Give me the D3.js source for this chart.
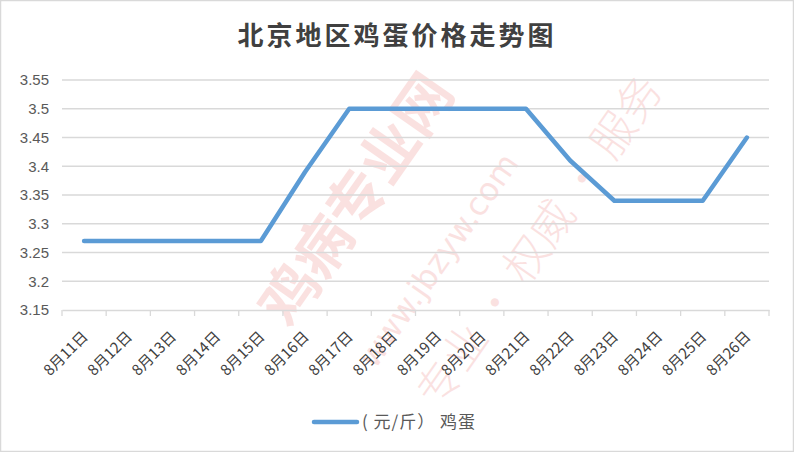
<!DOCTYPE html>
<html><head><meta charset="utf-8">
<script src="https://cdn.jsdelivr.net/npm/d3@7"></script>
<style>html,body{margin:0;padding:0;background:#fff;}svg{display:block;}</style>
</head><body>
<script>
const categories = ["8月11日","8月12日","8月13日","8月14日","8月15日","8月16日","8月17日","8月18日","8月19日","8月20日","8月21日","8月22日","8月23日","8月24日","8月25日","8月26日"];
const eggPrices = [3.27,3.27,3.27,3.27,3.27,3.39,3.5,3.5,3.5,3.5,3.5,3.41,3.34,3.34,3.34,3.45];
const yTicks = [3.15,3.2,3.25,3.3,3.35,3.4,3.45,3.5,3.55];
const title = "北京地区鸡蛋价格走势图";
const seriesName = "( 元/斤） 鸡蛋";

const W = 794, H = 452;
const svg = d3.select("body").append("svg").attr("width", W).attr("height", H);
const font = "'Noto Sans CJK SC', 'Noto Sans', sans-serif";

svg.append("rect").attr("x",0.5).attr("y",0.5).attr("width",W-1).attr("height",H-1)
  .attr("fill","#fff").attr("stroke","#d9d9d9").attr("stroke-width",1.5);

// watermark
const wm = svg.append("g").attr("opacity",0.13).attr("fill","#e0201c");
wm.append("text").attr("transform","translate(290,330) rotate(-55)")
  .attr("font-family",font).attr("font-size",58).attr("font-weight","bold").text("鸡病专业网");
wm.append("text").attr("transform","translate(375,370) rotate(-55)")
  .attr("font-family","'DejaVu Sans', sans-serif").attr("font-size",32).text("www.jbzyw.com");
wm.append("text").attr("transform","translate(440,410) rotate(-55)")
  .attr("font-family",font).attr("font-size",44).attr("font-weight","300").text("专业 · 权威 · 服务");

const x = d3.scaleBand().domain(categories).range([62, 769]);
const y = d3.scaleLinear().domain([3.15, 3.55]).range([310, 80]);

// gridlines
svg.append("g").selectAll("line").data(yTicks.slice(1)).join("line")
  .attr("x1",62).attr("x2",769).attr("y1",d=>y(d)).attr("y2",d=>y(d))
  .attr("stroke","#d9d9d9").attr("stroke-width",1.3);

// y axis labels
svg.append("g").selectAll("text").data(yTicks).join("text")
  .attr("x",49).attr("y",d=>y(d)).attr("dy","0.35em").attr("text-anchor","end")
  .attr("font-family","'Liberation Sans', sans-serif").attr("font-size",15).attr("fill","#595959")
  .text(d=>d3.format("")(d));

// x axis
const xAxis = svg.append("g").attr("transform","translate(0,310)")
  .call(d3.axisBottom(x).tickSize(0).tickSizeOuter(0).tickFormat(""));
xAxis.select(".domain").attr("stroke","#d9d9d9").attr("stroke-width",1.3);
const bounds = categories.map(c=>x(c)).concat([x.range()[1]]);
xAxis.selectAll(".bt").data(bounds).join("line").attr("class","bt")
  .attr("x1",d=>d).attr("x2",d=>d).attr("y1",0).attr("y2",6)
  .attr("stroke","#d9d9d9").attr("stroke-width",1.3);

svg.append("g").selectAll("text").data(categories).join("text")
  .attr("transform",d=>`translate(${x(d)+x.bandwidth()/2+1},${334}) rotate(-45)`)
  .attr("text-anchor","end").attr("dy","0.35em")
  .attr("font-family",font).attr("font-size",15).attr("fill","#404040")
  .text(d=>d);

// line
const line = d3.line().x((d,i)=>x(categories[i])+x.bandwidth()/2).y(d=>y(d));
svg.append("path").datum(eggPrices).attr("d",line)
  .attr("fill","none").attr("stroke","#5b9bd5").attr("stroke-width",4.5)
  .attr("stroke-linejoin","round").attr("stroke-linecap","round");

// title
svg.append("text").attr("x",397).attr("y",36).attr("text-anchor","middle").attr("dy","0.35em")
  .attr("font-family",font).attr("font-size",26).attr("letter-spacing",3).attr("font-weight","bold").attr("fill","#404040")
  .text(title);

// legend
svg.append("line").attr("x1",314).attr("x2",357).attr("y1",422).attr("y2",422)
  .attr("stroke","#5b9bd5").attr("stroke-width",4.5).attr("stroke-linecap","round");
svg.append("text").attr("x",362).attr("y",422).attr("dy","0.35em")
  .attr("font-family",font).attr("font-size",17).attr("letter-spacing",1).attr("fill","#595959").text(seriesName);
</script>
</body></html>
